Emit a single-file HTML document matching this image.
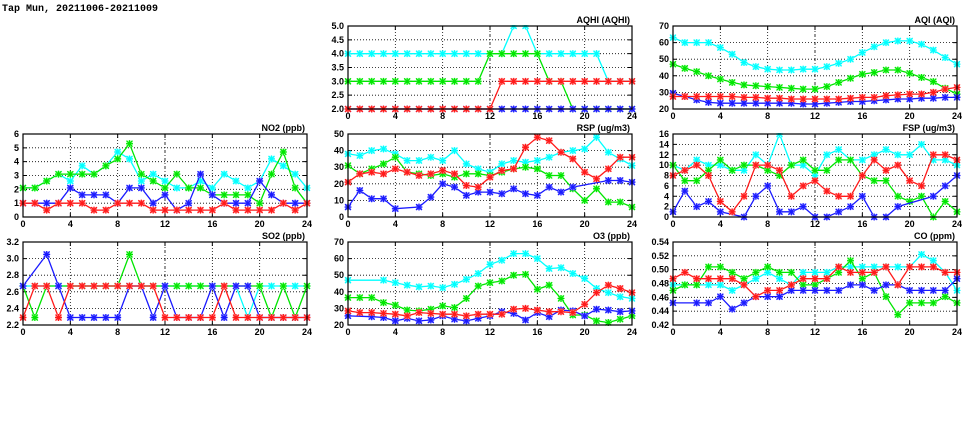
<!DOCTYPE html>
<html><head><meta charset="utf-8"><style>
body{margin:0;background:#fff;width:975px;height:447px;overflow:hidden}
svg{display:block}
text{font-family:"Liberation Sans",sans-serif;font-weight:bold;font-size:9px;fill:#000}
</style></head><body>
<svg id="c" width="975" height="447">
<text x="2" y="11" style="font-family:'Liberation Mono',monospace;font-size:10px">Tap Mun, 20211006-20211009</text>
</svg>
<script>
const hours=[0,1,2,3,4,5,6,7,8,9,10,11,12,13,14,15,16,17,18,19,20,21,22,23,24];
const seriesNames=["cyan","green","blue","red"];
const N=null;
const no2Cyan=[2.1,2.1,2.6,3.1,2.6,3.7,3.1,3.7,4.7,4.2,2.6,3.1,2.6,2.1,2.1,2.6,2.1,3.1,2.6,2.1,2.6,4.2,3.7,3.1,2.1];
const no2Green=[2.1,2.1,2.6,3.1,3.1,3.1,3.1,3.7,4.2,5.3,3.1,2.6,2.1,3.1,2.1,2.1,1.6,1.6,1.6,1.6,1.0,3.1,4.7,2.1,1.0];
const no2Blue=[1,1,1,1,2.1,1.6,1.6,1.6,1,2.1,2.1,1,1.6,0.5,1,3.1,1.6,1,1,1,2.6,1.6,1,1,1];
const no2Red=[1,1,0.5,1,1,1,0.5,0.5,1,1,1,0.5,0.5,0.5,0.5,0.5,0.5,1,0.5,0.5,0.5,0.5,1,0.5,1];
const so2Cyan=[2.67,2.67,2.67,2.67,2.67,2.67,2.67,2.67,2.67,2.67,2.67,2.67,2.67,2.67,2.67,2.67,2.67,2.67,2.67,2.29,2.67,2.67,2.67,2.67,2.67];
const so2Green=[2.67,2.29,2.67,2.67,2.67,2.67,2.67,2.67,2.67,3.05,2.67,2.67,2.67,2.67,2.67,2.67,2.67,2.67,2.67,2.67,2.67,2.29,2.67,2.29,2.67];
const so2Blue=[2.67,N,3.05,2.67,2.29,2.29,2.29,2.29,2.29,2.67,2.67,2.29,2.67,2.29,2.29,2.29,2.67,2.29,2.67,2.67,2.29,2.29,2.29,2.29,2.29];
const so2Red=[2.29,2.67,2.67,2.29,2.67,2.67,2.67,2.67,2.67,2.67,2.67,2.67,2.29,2.29,2.29,2.29,2.29,2.67,2.29,2.29,2.29,2.29,2.29,2.29,2.29];
const aqhiCyan=[4,4,4,4,4,4,4,4,4,4,4,4,4,4,5,5,4,4,4,4,4,4,3,3,3];
const aqhiGreen=[3,3,3,3,3,3,3,3,3,3,3,3,4,4,4,4,4,3,3,2,2,2,2,2,2];
const aqhiBlue=[2,2,2,2,2,2,2,2,2,2,2,2,2,2,2,2,2,2,2,2,2,2,2,2,2];
const aqhiRed=[2,2,2,2,2,2,2,2,2,2,2,2,2,3,3,3,3,3,3,3,3,3,3,3,3];
const aqiCyan=[63,60,60,60,57,53,48,45.5,44,43.5,43.5,44,44,45.5,47.5,50,54,57.5,60,61,61,59,55.5,51,47];
const aqiGreen=[47,44.5,42.5,40,38,36,34.5,34,33.5,33,32.5,32,32,33.5,36,38.5,41,42,43.5,43.5,41.5,39,36.5,32.5,29];
const aqiBlue=[29.5,27.5,25.5,24,23.5,23.5,23.5,23.5,23.5,23.5,23.5,23,23,23.5,24,24.5,24.5,25,25.5,26,26,26.5,26.5,27,27];
const aqiRed=[27.5,27.5,27.5,27.5,27.5,27.5,27,27,26.5,26.5,26,26,26,26,26,26.5,27,27,28,28.5,29,29,30,32,33];
const rspCyan=[38,37,40,41,38,34,34,36,34,40,32,29,27,32,34,33,34,36,39,40,41,48,39,35,31];
const rspGreen=[31,26,29,32,36,27,26,25,26,24,26,26,25,27,29,30,29,25,25,17,10,17,9,9,6];
const rspBlue=[6,16,11,11,5,N,6,12,20,18,13,15,15,14,17,14,13,18,15,18,N,N,22,22,21];
const rspRed=[21,26,27,26,29,27,25,26,28,26,19,18,24,28,29,42,48,46,39,35,27,23,29,36,36];
const fspCyan=[10,9,11,10,10,9,9,12,10,16,10,10,8,12,13,11,11,12,13,12,12,14,11,11,10];
const fspGreen=[10,7,7,9,11,9,10,10,9,8,10,11,9,9,11,11,8,7,7,4,3,4,0,3,1];
const fspBlue=[1,5,2,3,1,N,0,4,6,1,1,2,0,0,1,2,4,0,0,2,N,N,4,6,8];
const fspRed=[8,9,10,8,3,1,4,10,10,9,4,6,7,5,4,4,8,11,9,10,7,6,12,12,11];
const o3Cyan=[47,N,N,47,45.5,44,43,43.5,42.5,44.5,47.5,51,56.5,59,63,63,60,54,54.5,51,48,42,39.5,37,36];
const o3Green=[36.5,36.5,36.5,33.5,32,29,28.5,29.5,31.5,30.5,36,43.5,45.5,46.5,50,50.5,41.5,44,36,26,26,22.5,21.5,23.5,25.5];
const o3Blue=[25.5,N,25,24.5,22.5,24,22.5,23,25.5,23.5,22.5,24,25.5,28,27,23,27.5,25,29,28.5,25.5,29.5,29,28,28.5];
const o3Red=[28.5,27.5,27.5,27,26.5,25.5,27.5,27,26.5,26.5,25.5,26.5,26.5,26.5,29.5,30,29,28,28,27.5,32.5,39.5,44,42,39.5];
const coCyan=[0.478,0.478,0.478,0.478,0.478,0.470,0.478,0.487,0.496,0.487,0.478,0.496,0.496,0.496,0.504,0.504,0.504,0.504,0.504,0.504,0.504,0.522,0.513,0.496,0.470];
const coGreen=[0.470,0.478,0.478,0.504,0.504,0.496,0.487,0.496,0.504,0.496,0.496,0.478,0.478,0.487,0.496,0.513,0.487,0.496,0.461,0.435,0.452,0.452,0.452,0.461,0.452];
const coBlue=[0.452,N,0.452,0.452,0.461,0.443,0.452,0.461,0.461,0.461,0.470,0.470,0.470,0.470,0.470,0.478,0.478,0.470,0.478,0.478,0.470,0.470,0.470,0.470,0.487];
const coRed=[0.487,0.496,0.487,0.487,0.487,0.487,0.478,0.461,0.470,0.470,0.478,0.487,0.487,0.487,0.504,0.496,0.496,0.496,0.504,0.478,0.504,0.504,0.504,0.496,0.496];
const xTicks=[0,4,8,12,16,20,24];
const no2Ticks=[0,1,2,3,4,5,6];
const so2Ticks=[2.2,2.4,2.6,2.8,3.0,3.2];
const aqhiTicks=[2.0,2.5,3.0,3.5,4.0,4.5,5.0];
const aqiTicks=[20,30,40,50,60,70];
const rspTicks=[0,10,20,30,40,50];
const fspTicks=[0,2,4,6,8,10,12,14,16];
const o3Ticks=[20,30,40,50,60,70];
const coTicks=[0.42,0.44,0.46,0.48,0.50,0.52,0.54];

const colors={cyan:"#00ffff",green:"#00e600",blue:"#1a1aff",red:"#ff1a1a"};
const light={cyan:"#a0ffff",green:"#a0ffa0",blue:"#a0a0ff",red:"#ffa0a0"};
const NS="http://www.w3.org/2000/svg";
const svg=document.getElementById('c');
function mk(tag,attrs,parent){const e=document.createElementNS(NS,tag);for(const k in attrs)e.setAttribute(k,attrs[k]);(parent||svg).appendChild(e);return e;}

const panels=[
 {key:"no2",title:"NO2 (ppb)",x:23,y:134,ticks:no2Ticks,dec:0,data:[no2Cyan,no2Green,no2Blue,no2Red]},
 {key:"so2",title:"SO2 (ppb)",x:23,y:242,ticks:so2Ticks,dec:1,data:[so2Cyan,so2Green,so2Blue,so2Red]},
 {key:"aqhi",title:"AQHI (AQHI)",x:348,y:26,ticks:aqhiTicks,dec:1,data:[aqhiCyan,aqhiGreen,aqhiBlue,aqhiRed]},
 {key:"rsp",title:"RSP (ug/m3)",x:348,y:134,ticks:rspTicks,dec:0,data:[rspCyan,rspGreen,rspBlue,rspRed]},
 {key:"o3",title:"O3 (ppb)",x:348,y:242,ticks:o3Ticks,dec:0,data:[o3Cyan,o3Green,o3Blue,o3Red]},
 {key:"aqi",title:"AQI (AQI)",x:673,y:26,ticks:aqiTicks,dec:0,data:[aqiCyan,aqiGreen,aqiBlue,aqiRed]},
 {key:"fsp",title:"FSP (ug/m3)",x:673,y:134,ticks:fspTicks,dec:0,data:[fspCyan,fspGreen,fspBlue,fspRed]},
 {key:"co",title:"CO (ppm)",x:673,y:242,ticks:coTicks,dec:2,data:[coCyan,coGreen,coBlue,coRed]}
];
const W=284,H=83;
panels.forEach(p=>{
 const g=mk('g',{});
 
 
 const ymin=p.ticks[0],ymax=p.ticks[p.ticks.length-1];
 const sx=h=>p.x+h/24*W;
 const sy=v=>p.y+H-(v-ymin)/(ymax-ymin)*H;
 p.ticks.slice(1,-1).forEach(t=>{
  const l=mk('line',{x1:p.x,x2:p.x+W,y1:sy(t),y2:sy(t),stroke:"#000","stroke-width":0.8,"stroke-dasharray":"1,2"},g);
  
  
 });
 xTicks.slice(1,-1).forEach(t=>{
  const l=mk('line',{x1:sx(t),x2:sx(t),y1:p.y,y2:p.y+H,stroke:"#000","stroke-width":0.8,"stroke-dasharray":t==12?"3,2,1,2":"1,2"},g);
  
  
 });
 p.ticks.forEach(t=>{
  const tx=mk('text',{x:p.x-4,y:sy(t)+3,"text-anchor":"end"},g);
  tx.textContent=t.toFixed(p.dec);
  
  
  const tk=mk('path',{d:`M${p.x},${sy(t)}h4M${p.x+W},${sy(t)}h-4`,stroke:"#000","stroke-width":1},g);
  
  
 });
 xTicks.forEach(t=>{
  const tx=mk('text',{x:sx(t),y:p.y+H+10,"text-anchor":"middle"},g);
  tx.textContent=t;
  
  
  const tk=mk('path',{d:`M${sx(t)},${p.y}v4M${sx(t)},${p.y+H}v-4`,stroke:"#000","stroke-width":1},g);
  
  
 });
 const tt=mk('text',{x:p.x+W-2,y:p.y-3,"text-anchor":"end"},g);
 tt.textContent=p.title;
 
 
 const cid='clip-'+p.key;
 const cp=mk('clipPath',{id:cid},g);
 mk('rect',{x:p.x-4,y:p.y-1,width:W+8,height:H+5},cp);
 const sg=mk('g',{"clip-path":"url(#"+cid+")"},g);
 p.data.forEach((arr,si)=>{
  const c=seriesNames[si];
  let d="";
  hours.forEach((h,i)=>{const v=arr[i];if(v===null)return;d+=(d?"L":"M")+sx(h).toFixed(1)+","+sy(v).toFixed(1);});
  const path=mk('path',{d:d,fill:"none",stroke:colors[c],"stroke-width":1.3},sg);
  
  
  hours.forEach((h,i)=>{
   const v=arr[i];if(v===null)return;
   const X=sx(h),Y=sy(v);
   const m=mk('g',{},sg);
   
   
   mk('rect',{x:X-3,y:Y-3,width:6,height:6,fill:light[c]},m);
   mk('path',{d:`M${X-3},${Y-3}L${X+3},${Y+3}M${X+3},${Y-3}L${X-3},${Y+3}M${X},${Y-3.5}L${X},${Y+3.5}M${X-3.5},${Y}L${X+3.5},${Y}`,stroke:colors[c],"stroke-width":1.2},m);
  });
 });
 const fr=mk('rect',{x:p.x,y:p.y,width:W,height:H,fill:"none",stroke:"#000","stroke-width":1.2},g);
 
 
});
</script>
</body></html>
